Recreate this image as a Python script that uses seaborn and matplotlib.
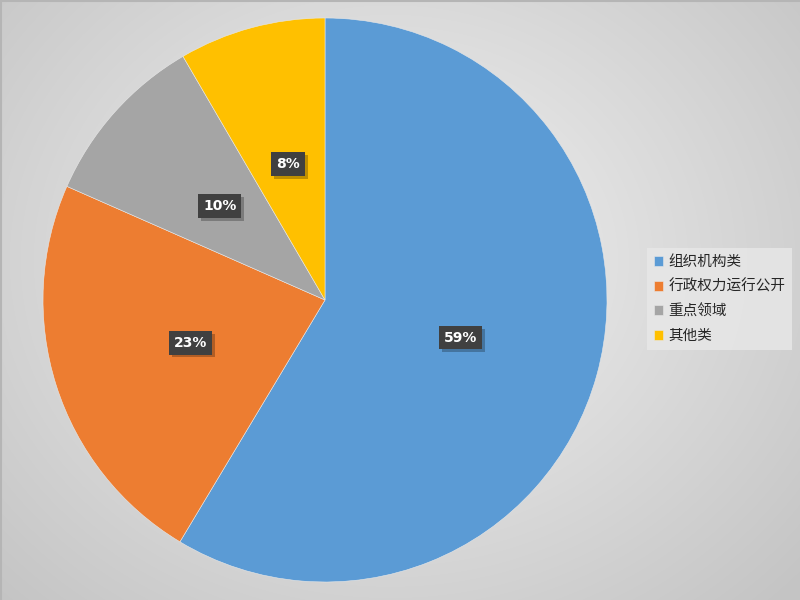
import numpy as np
import matplotlib
matplotlib.use('Agg')
import matplotlib.pyplot as plt
import matplotlib.patheffects as pe
import seaborn as sns

# ====== Данные ======
categories = ['组织机构类', '行政权力运行公开', '重点领域', '其他类']
shares = [58.6, 23.0, 10.0, 8.4]
pct_labels = ['59%', '23%', '10%', '8%']
colors = ['#5B9BD5', '#ED7D31', '#A5A5A5', '#FFC000']

sns.set_theme(style='white')
plt.rcParams['font.family'] = ['Noto Sans CJK SC', 'DejaVu Sans']

fig = plt.figure(figsize=(8, 6), dpi=100)

# фон: радиальный градиент серого
bg = fig.add_axes([0, 0, 1, 1])
yy, xx = np.mgrid[0:600, 0:800]
dist = np.sqrt(((xx - 390) / 560) ** 2 + ((yy - 260) / 480) ** 2)
grad = np.clip(dist, 0, 1)
bg.imshow(grad, cmap=sns.blend_palette(['#f3f3f3', '#c4c4c4'], as_cmap=True),
          extent=[0, 800, 600, 0], aspect='auto', vmin=0, vmax=1)
bg.plot([0, 800], [1, 1], color='#b5b5b5', lw=1.5)
bg.plot([1, 1], [0, 600], color='#b5b5b5', lw=1.5)
bg.set_xlim(0, 800)
bg.set_ylim(600, 0)
bg.axis('off')

# круговая диаграмма
ax = fig.add_axes([43 / 800, 18 / 600, 564 / 800, 564 / 600])
wedges, _ = ax.pie(
    shares,
    colors=colors,
    startangle=90,
    counterclock=False,
    radius=1,
    wedgeprops={'linewidth': 0.4, 'edgecolor': '#e8e8e8'},
)
ax.set_xlim(-1, 1)
ax.set_ylim(-1, 1)
ax.set_aspect('equal')
ax.axis('off')

# подписи процентов в тёмных рамках
for w, lab in zip(wedges, pct_labels):
    ang = np.deg2rad((w.theta1 + w.theta2) / 2)
    x, y = 0.5 * np.cos(ang), 0.5 * np.sin(ang)
    t = ax.text(x, y, lab, ha='center', va='center', color='white',
                fontsize=10, fontweight='bold', family='DejaVu Sans',
                bbox=dict(boxstyle='square,pad=0.35', fc='#404040', ec='none'))
    t.get_bbox_patch().set_path_effects(
        [pe.SimplePatchShadow(offset=(2, -2), shadow_rgbFace='black', alpha=0.25), pe.Normal()])

# легенда
leg = fig.legend(wedges, categories, loc='center left', bbox_to_anchor=(647 / 800, 1 - 299 / 600),
                 fontsize=10.5, frameon=True, handlelength=0.65, handleheight=0.65,
                 handletextpad=0.35, labelspacing=0.72, borderpad=0.45, borderaxespad=0,
                 fancybox=False)
leg.get_frame().set_facecolor('#e8e8e8')
leg.get_frame().set_edgecolor('none')
leg.get_frame().set_alpha(0.8)

fig.savefig('out.png', dpi=100)
